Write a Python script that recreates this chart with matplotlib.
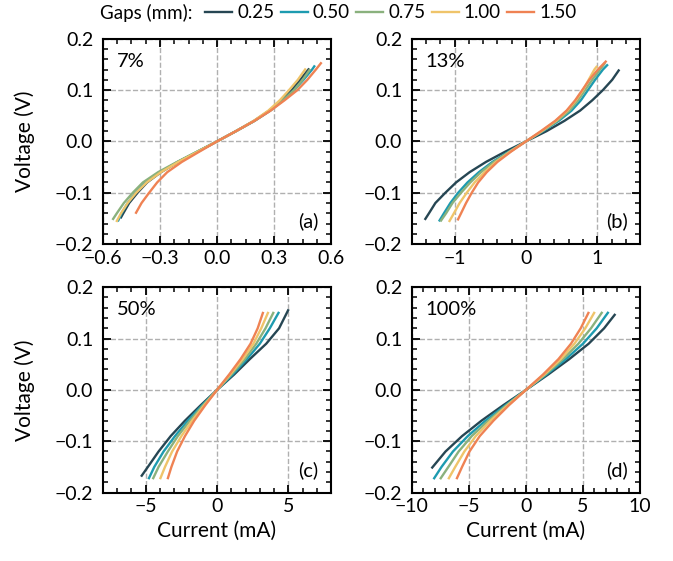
import matplotlib
matplotlib.use('Agg')
import matplotlib.pyplot as plt
from matplotlib.ticker import MultipleLocator, AutoMinorLocator
from matplotlib.lines import Line2D

plt.rcParams['font.family'] = ['Lato', 'DejaVu Sans']

gaps = ['0.25', '0.50', '0.75', '1.00', '1.50']
colors = ['#264653', '#1d9bb0', '#8ab17d', '#efc46a', '#ef8253']

# (a) 7%  -- voltage (V) and current (mA)
a_v = [
    [-0.150, -0.14, -0.12, -0.10, -0.08, -0.06, -0.04, -0.02, 0, 0.02, 0.04, 0.06, 0.08, 0.10, 0.12, 0.142],
    [-0.156, -0.14, -0.12, -0.10, -0.08, -0.06, -0.04, -0.02, 0, 0.02, 0.04, 0.06, 0.08, 0.10, 0.12, 0.14, 0.148],
    [-0.153, -0.14, -0.12, -0.10, -0.08, -0.06, -0.04, -0.02, 0, 0.02, 0.04, 0.06, 0.08, 0.10, 0.12, 0.141],
    [-0.157, -0.14, -0.12, -0.10, -0.08, -0.06, -0.04, -0.02, 0, 0.02, 0.04, 0.06, 0.08, 0.10, 0.12, 0.142],
    [-0.141, -0.12, -0.10, -0.08, -0.06, -0.04, -0.02, 0, 0.02, 0.04, 0.06, 0.08, 0.10, 0.12, 0.14, 0.154],
]
a_i = [
    [-0.508, -0.493, -0.462, -0.418, -0.368, -0.295, -0.205, -0.102, 0, 0.100, 0.195, 0.275, 0.340, 0.393, 0.437, 0.485],
    [-0.522, -0.502, -0.470, -0.428, -0.375, -0.300, -0.207, -0.103, 0, 0.100, 0.197, 0.280, 0.347, 0.405, 0.455, 0.500, 0.515],
    [-0.550, -0.527, -0.490, -0.443, -0.390, -0.310, -0.210, -0.105, 0, 0.100, 0.197, 0.280, 0.347, 0.405, 0.450, 0.490],
    [-0.530, -0.505, -0.470, -0.425, -0.370, -0.295, -0.203, -0.101, 0, 0.100, 0.193, 0.270, 0.330, 0.379, 0.425, 0.467],
    [-0.429, -0.397, -0.357, -0.315, -0.262, -0.185, -0.093, 0, 0.100, 0.197, 0.282, 0.355, 0.423, 0.475, 0.520, 0.550],
]

# (b) 13%
b_v = [
    [-0.153, -0.14, -0.12, -0.10, -0.08, -0.06, -0.04, -0.02, 0, 0.02, 0.04, 0.06, 0.08, 0.10, 0.12, 0.140],
    [-0.156, -0.14, -0.12, -0.10, -0.08, -0.06, -0.04, -0.02, 0, 0.02, 0.04, 0.06, 0.08, 0.10, 0.12, 0.14, 0.150],
    [-0.156, -0.14, -0.12, -0.10, -0.08, -0.06, -0.04, -0.02, 0, 0.02, 0.04, 0.06, 0.08, 0.10, 0.12, 0.14, 0.153],
    [-0.157, -0.14, -0.12, -0.10, -0.08, -0.06, -0.04, -0.02, 0, 0.02, 0.04, 0.06, 0.08, 0.10, 0.12, 0.14, 0.147],
    [-0.154, -0.14, -0.12, -0.10, -0.08, -0.06, -0.04, -0.02, 0, 0.02, 0.04, 0.06, 0.08, 0.10, 0.12, 0.14, 0.157],
]
b_i = [
    [-1.42, -1.36, -1.27, -1.13, -0.98, -0.79, -0.56, -0.29, 0, 0.29, 0.54, 0.76, 0.93, 1.08, 1.21, 1.31],
    [-1.22, -1.15, -1.06, -0.95, -0.82, -0.66, -0.47, -0.24, 0, 0.24, 0.46, 0.64, 0.77, 0.87, 0.97, 1.08, 1.15],
    [-1.20, -1.12, -1.03, -0.91, -0.78, -0.63, -0.45, -0.23, 0, 0.23, 0.44, 0.61, 0.73, 0.83, 0.93, 1.04, 1.11],
    [-1.08, -1.01, -0.93, -0.83, -0.72, -0.58, -0.42, -0.22, 0, 0.22, 0.42, 0.58, 0.70, 0.80, 0.88, 0.96, 1.00],
    [-0.96, -0.91, -0.84, -0.76, -0.67, -0.55, -0.40, -0.21, 0, 0.21, 0.41, 0.57, 0.69, 0.79, 0.89, 1.01, 1.13],
]

# (c) 50%
c_v = [
    [-0.169, -0.15, -0.12, -0.09, -0.06, -0.03, 0, 0.03, 0.06, 0.09, 0.12, 0.157],
    [-0.174, -0.15, -0.12, -0.09, -0.06, -0.03, 0, 0.03, 0.06, 0.09, 0.12, 0.152],
    [-0.174, -0.15, -0.12, -0.09, -0.06, -0.03, 0, 0.03, 0.06, 0.09, 0.12, 0.152],
    [-0.174, -0.15, -0.12, -0.09, -0.06, -0.03, 0, 0.03, 0.06, 0.09, 0.12, 0.152],
    [-0.174, -0.15, -0.12, -0.09, -0.06, -0.03, 0, 0.03, 0.06, 0.09, 0.12, 0.152],
]
c_i = [
    [-5.33, -4.85, -4.10, -3.25, -2.25, -1.15, 0, 1.20, 2.30, 3.45, 4.35, 5.02],
    [-4.81, -4.40, -3.75, -2.95, -2.05, -1.05, 0, 1.10, 2.10, 3.00, 3.70, 4.35],
    [-4.51, -4.10, -3.45, -2.75, -1.90, -0.98, 0, 1.00, 1.95, 2.75, 3.40, 3.98],
    [-4.00, -3.65, -3.15, -2.50, -1.75, -0.90, 0, 0.92, 1.80, 2.55, 3.10, 3.60],
    [-3.47, -3.20, -2.80, -2.25, -1.60, -0.83, 0, 0.85, 1.65, 2.35, 2.85, 3.24],
]

# (d) 100%
d_v = [
    [-0.153, -0.12, -0.09, -0.06, -0.03, 0, 0.03, 0.06, 0.09, 0.12, 0.148],
    [-0.174, -0.15, -0.12, -0.09, -0.06, -0.03, 0, 0.03, 0.06, 0.09, 0.12, 0.152],
    [-0.174, -0.15, -0.12, -0.09, -0.06, -0.03, 0, 0.03, 0.06, 0.09, 0.12, 0.152],
    [-0.174, -0.15, -0.12, -0.09, -0.06, -0.03, 0, 0.03, 0.06, 0.09, 0.12, 0.152],
    [-0.174, -0.15, -0.12, -0.09, -0.06, -0.03, 0, 0.03, 0.06, 0.09, 0.12, 0.152],
]
d_i = [
    [-8.28, -7.05, -5.60, -3.90, -2.00, 0, 1.95, 3.80, 5.50, 6.85, 7.84],
    [-8.10, -7.40, -6.40, -5.10, -3.55, -1.80, 0, 1.80, 3.50, 5.00, 6.20, 7.24],
    [-7.53, -6.80, -5.90, -4.75, -3.30, -1.70, 0, 1.70, 3.25, 4.60, 5.70, 6.70],
    [-6.81, -6.20, -5.40, -4.40, -3.10, -1.60, 0, 1.60, 3.05, 4.25, 5.20, 6.03],
    [-6.09, -5.60, -4.95, -4.05, -2.85, -1.50, 0, 1.50, 2.85, 3.95, 4.80, 5.52],
]

panels = [
    (a_i, a_v, '7%', '(a)', (-0.6, 0.6), 0.3),
    (b_i, b_v, '13%', '(b)', (-1.6, 1.6), 1),
    (c_i, c_v, '50%', '(c)', (-8, 8), 5),
    (d_i, d_v, '100%', '(d)', (-10, 10), 5),
]
boxes = [
    [0.153, 0.565, 0.339, 0.366],
    [0.612, 0.565, 0.339, 0.366],
    [0.153, 0.122, 0.339, 0.366],
    [0.612, 0.122, 0.339, 0.366],
]

fig = plt.figure(figsize=(6.73, 5.61), dpi=100)

for k, (ii, vv, pct, tag, xlim, xstep) in enumerate(panels):
    ax = fig.add_axes(boxes[k])
    for j in range(5):
        ax.plot(ii[j], vv[j], color=colors[j], lw=1.7, solid_capstyle='butt')
    ax.set_xlim(xlim)
    ax.set_ylim(-0.2, 0.2)
    ax.xaxis.set_major_locator(MultipleLocator(xstep))
    ax.yaxis.set_major_locator(MultipleLocator(0.1))
    ax.xaxis.set_minor_locator(AutoMinorLocator())
    ax.yaxis.set_minor_locator(AutoMinorLocator())
    ax.grid(True, which='major', ls='--', color='#b0b0b0', lw=1.0)
    ax.set_axisbelow(True)
    ax.tick_params(which='both', direction='in', top=True, right=True, labelsize=14)
    ax.tick_params(which='major', length=6, width=1.3)
    ax.tick_params(which='minor', length=3.5, width=1.1)
    ax.tick_params(axis='x', pad=4)
    ax.tick_params(axis='y', pad=7)
    for s in ax.spines.values():
        s.set_linewidth(1.5)
    ax.text(0.06, 0.89, pct, transform=ax.transAxes, fontsize=14.5, va='center', ha='left')
    ax.text(0.945, 0.11, tag, transform=ax.transAxes, fontsize=14.5, va='center', ha='right')
    if k % 2 == 0:
        ax.set_ylabel('Voltage (V)', fontsize=15)
        ax.yaxis.set_label_coords(-0.30, 0.5)
    if k >= 2:
        ax.set_xlabel('Current (mA)', fontsize=15)

fig.text(0.1486, 0.977, 'Gaps (mm):', fontsize=13.5, va='center', ha='left')
handles = [Line2D([], [], color=c, lw=1.7) for c in colors]
fig.legend(handles, gaps, loc='center left', bbox_to_anchor=(0.3046, 0.977),
           ncol=5, frameon=False, fontsize=13.5, borderpad=0, borderaxespad=0,
           handlelength=1.45, handletextpad=0.27, columnspacing=0.33)

fig.savefig('out.png', dpi=100)
